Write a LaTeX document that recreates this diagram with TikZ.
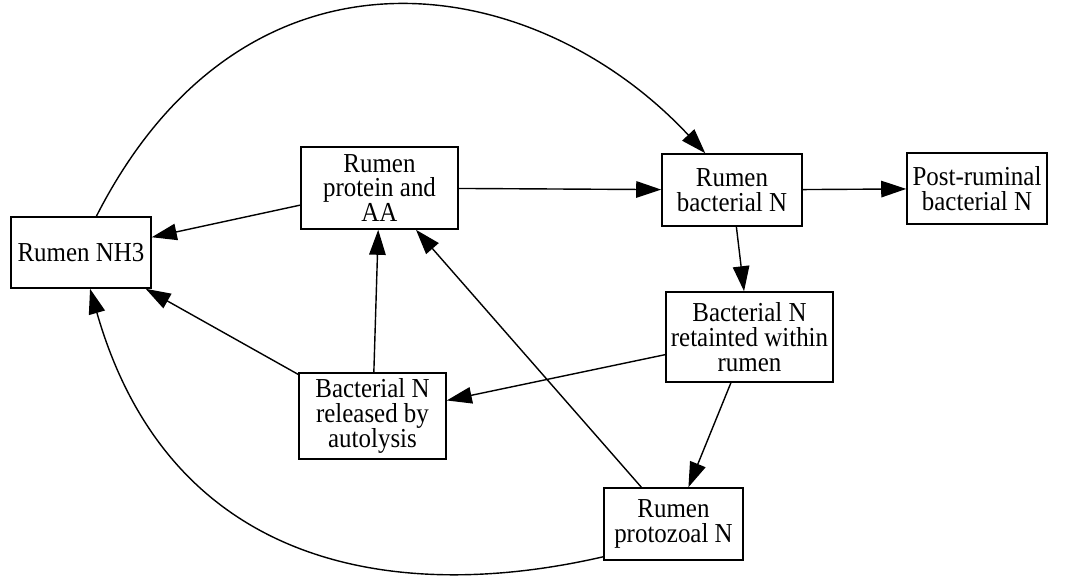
\documentclass[tikz,border=0pt]{standalone}
\usepackage{fontspec}
\setmainfont{Liberation Serif}[FakeStretch=0.91]
\usepackage{tikz}
\usetikzlibrary{arrows.meta, positioning}

\begin{document}
\begin{tikzpicture}[>={Triangle[length=0.5cm, width=0.33cm]}]
    \tikzstyle{box} = [rectangle, draw=black, line width=0.9pt, inner sep=1pt, align=center, font=\fontsize{15.6}{14.2}\selectfont]
    \tikzstyle{flow} = [draw, ->, line width=0.8pt]
    \useasboundingbox (0,0) rectangle (21.44,-11.6);

    \node [box, minimum width=2.8cm, minimum height=1.42cm] (nh3) at (1.62,-5.05) {Rumen NH3};
    \node [box, minimum width=3.14cm, minimum height=1.64cm] (prot) at (7.59,-3.76) {Rumen\\protein and\\AA};
    \node [box, minimum width=2.8cm, minimum height=1.44cm] (bact) at (14.64,-3.80) {Rumen\\bacterial N};
    \node [box, minimum width=2.8cm, minimum height=1.42cm] (post) at (19.54,-3.77) {Post-ruminal\\bacterial N};
    \node [box, minimum width=3.34cm, minimum height=1.8cm] (ret) at (14.99,-6.74) {Bacterial N\\retainted within\\rumen};
    \node [box, minimum width=2.94cm, minimum height=1.72cm] (rel) at (7.45,-8.32) {Bacterial N\\released by\\autolysis};
    \node [box, minimum width=2.78cm, minimum height=1.44cm] (proto) at (13.47,-10.48) {Rumen\\protozoal N};

    \path [flow] (prot) -- (nh3);
    \path [flow] (prot) -- (bact);
    \path [flow] (bact) -- (post);
    \path [flow] (bact) -- (ret);
    \path [flow] (ret) -- (rel);
    \path [flow] (rel) -- (prot);
    \path [flow] (rel) -- (nh3);
    \path [flow] (ret) -- (proto);
    \path [flow] (proto) -- (prot);
    \path [flow] (nh3.67) .. controls +(63:6.6) and +(133:5.0) .. (bact.126);
    \path [flow] (proto.205) .. controls +(193:4) and +(-74:6) .. (nh3.284);
\end{tikzpicture}
\end{document}
